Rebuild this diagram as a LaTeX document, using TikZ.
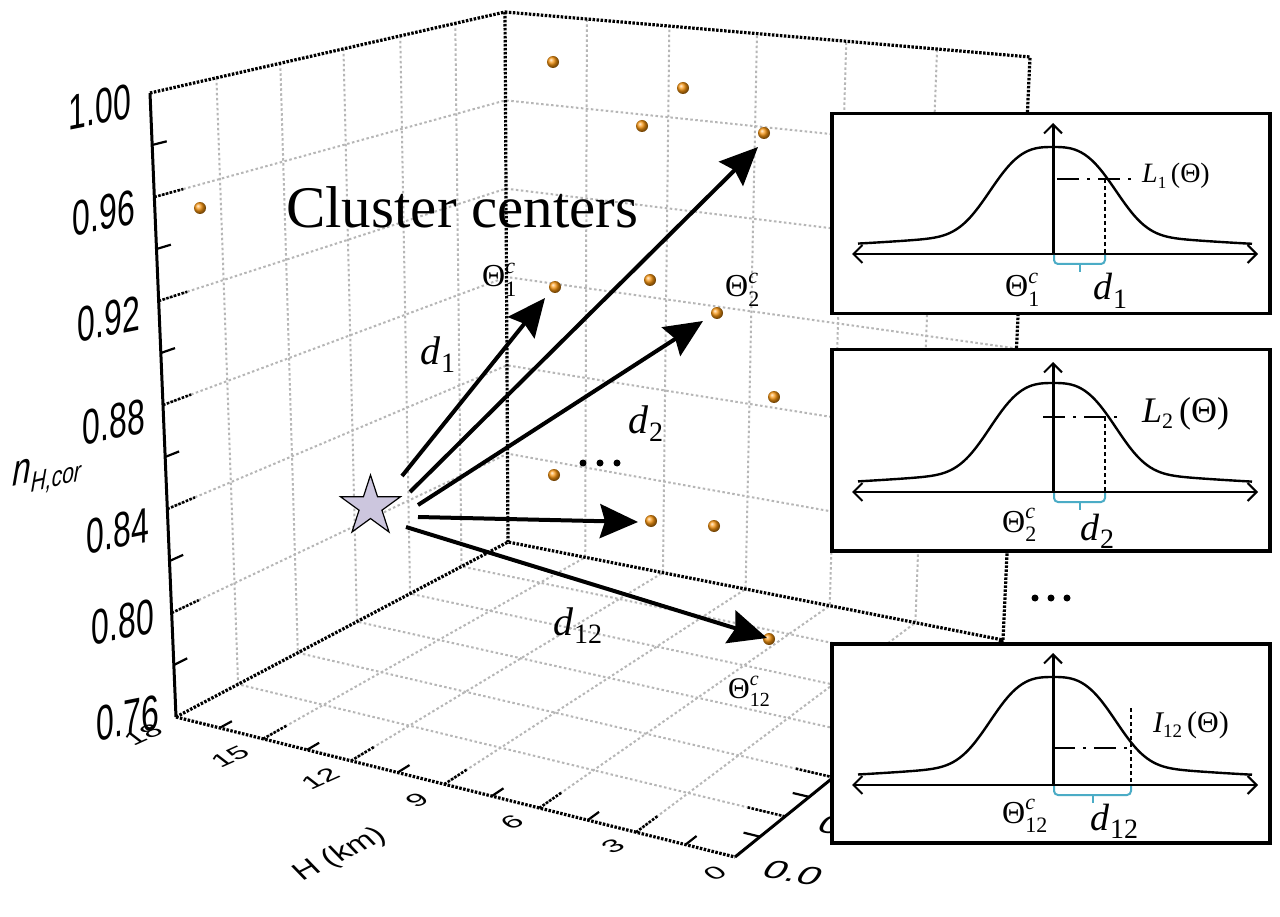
\documentclass[tikz,border=0pt]{standalone}
\usepackage{fontspec}
\setmainfont{Liberation Serif}
\newfontfamily\arialf{Liberation Sans}
\usetikzlibrary{arrows.meta,shapes.geometric,calc}
\definecolor{dotorange}{RGB}{250,150,15}
\definecolor{gridgray}{RGB}{182,182,182}
\definecolor{bracecyan}{RGB}{75,172,198}
\definecolor{starfill}{RGB}{204,198,222}
\newcommand{\TC}[3]{{\fontsize{#1}{#1}\selectfont Θ}{\fontsize{#2}{#2}\selectfont\rlap{\raisebox{0.62em}{\textit{c}}}\raisebox{-0.42em}{#3}}}
\newcommand{\DS}[3]{{\fontsize{#1}{#1}\selectfont\itshape d}\kern1pt{\fontsize{#2}{#2}\selectfont\raisebox{-0.3em}{#3}}}
\newcommand{\LT}[4]{{\fontsize{#1}{#1}\selectfont\itshape #3}{\fontsize{#2}{#2}\selectfont\raisebox{-0.3em}{#4}}{\fontsize{#1}{#1}\selectfont\,(Θ)}}
\newcommand{\bellplot}[2]{\draw[bell] plot[domain=-195:199,samples=121,smooth] ({1053+(\x)},{#1-#2*(0.80*exp(-min((abs(\x)/72)^3,15))+0.20/(1+(\x/190)*(\x/190)))});}
\begin{document}
\begin{tikzpicture}[x=1pt,y=-1pt,
  gridln/.style={gridgray, line width=2pt, dash pattern=on 2.5pt off 2.5pt},
  edge/.style={black, line width=3.2pt, dash pattern=on 2.5pt off 1.5pt},
  axisln/.style={black, line width=3pt},
  tickln/.style={black, line width=2.2pt},
  majtick/.style={black, line width=2.6pt, dash pattern=on 2.5pt off 1.5pt},
  dot/.style={circle, inner sep=0pt, minimum size=12pt, shading=ball, ball color=dotorange},
  bigarrow/.style={line width=4pt, -{Stealth[length=38pt,width=34pt,inset=5pt]}},
  inset/.style={draw=black, line width=3.5pt, fill=white, rectangle, inner sep=0pt, anchor=north west, minimum width=438pt},
  haxis/.style={line width=2pt, {Straight Barb[length=9pt,width=18pt,line width=2pt]}-{Straight Barb[length=9pt,width=18pt,line width=2pt]}},
  vaxis/.style={line width=3pt, -{Straight Barb[length=9pt,width=18pt,line width=2pt]}},
  bell/.style={line width=2.4pt},
  level/.style={line width=2pt, dash pattern=on 22pt off 8pt on 3pt off 8pt},
  drop/.style={line width=1.5pt, dash pattern=on 4pt off 3pt},
  brace/.style={bracecyan, line width=2pt, rounded corners=4pt},
  ylab/.style={font=\arialf\fontsize{32pt}{32pt}\selectfont, inner sep=0pt, cm={1.0,0.2,0.0,1.55,(0,0)}, transform shape},
  hlab/.style={font=\arialf\fontsize{28pt}{28pt}\selectfont, inner sep=0pt, cm={1.0,0.45,-0.65,0.5,(0,0)}, transform shape},
  glab/.style={font=\arialf\fontsize{32pt}{32pt}\selectfont, inner sep=0pt, cm={1.25,-0.2,0.5,0.75,(0,0)}, transform shape},
  lbl/.style={anchor=base west, inner sep=0pt},
]
\useasboundingbox (0,0) rectangle (1280,917);
\fill[white] (0,0) rectangle (1280,917);
\coordinate (A) at (150,93);
\coordinate (D) at (505,12);
\coordinate (E) at (508,542);
\coordinate (B) at (176,717);
\coordinate (F) at (1030,57);
\coordinate (G) at (1003,640);
\coordinate (C) at (735,857);
% grid
\foreach \f in {0.1667,0.3333,0.5,0.6667,0.8333}{
  \draw[gridln] ($(B)!\f!(A)$) -- ($(E)!\f!(D)$) -- ($(G)!\f!(F)$);
}
\foreach \f in {0.187,0.367,0.545,0.705,0.86}{
  \draw[gridln] ($(A)!\f!(D)$) -- ($(B)!\f!(E)$) -- ($(C)!\f!(G)$);
}
\foreach \f in {0.156,0.313,0.48,0.65,0.823}{
  \draw[gridln] ($(B)!\f!(C)$) -- ($(E)!\f!(G)$) -- ($(D)!\f!(F)$);
}
% box edges and axes
\draw[edge] (A) -- (D) -- (F) -- (G);
\draw[edge] (D) -- (E);
\draw[edge] (B) -- (E) -- (G);
\draw[edge] (B) -- (C);
\draw[axisln] (A) -- (B);
\draw[axisln] (C) -- (G);
% ticks
\foreach \f in {0.1667,0.3333,0.5,0.6667,0.8333}{
  \coordinate (p) at ($(B)!\f!(A)$); \coordinate (q) at ($(E)!\f!(D)$);
  \draw[majtick] (p) -- ($(p)!30pt!(q)$);
}
\foreach \f in {0.0833,0.25,0.4167,0.5833,0.75,0.9167}{
  \coordinate (p) at ($(B)!\f!(A)$); \coordinate (q) at ($(E)!\f!(D)$);
  \draw[tickln] (p) -- ($(p)!15pt!(q)$);
}
\foreach \f in {0.156,0.313,0.48,0.65,0.823}{
  \coordinate (p) at ($(B)!\f!(C)$); \coordinate (q) at ($(E)!\f!(G)$);
  \draw[majtick] (p) -- ($(p)!28pt!(q)$);
}
\foreach \f in {0.078,0.2345,0.3965,0.565,0.7365,0.9115}{
  \coordinate (p) at ($(B)!\f!(C)$); \coordinate (q) at ($(E)!\f!(G)$);
  \draw[tickln] (p) -- ($(p)!14pt!(q)$);
}
\foreach \f in {0.187,0.367,0.545,0.705,0.86}{
  \coordinate (p) at ($(C)!\f!(G)$); \coordinate (q) at ($(B)!\f!(E)$);
  \draw[majtick] (p) -- ($(p)!40pt!(q)$);
}
\foreach \f in {0.0935,0.277,0.456,0.625,0.7825,0.93}{
  \coordinate (p) at ($(C)!\f!(G)$); \coordinate (q) at ($(B)!\f!(E)$);
  \draw[tickln] (p) -- ($(p)!17pt!(q)$);
}
% tick labels
\node[ylab] (y100) at (100,107) {1.00};
\node[ylab] (y096) at (104,213) {0.96};
\node[ylab] (y092) at (109,319) {0.92};
\node[ylab] (y088) at (114,422) {0.88};
\node[ylab] (y084) at (118,531) {0.84};
\node[ylab] (y080) at (123,622) {0.80};
\node[ylab] (y076) at (128,718) {0.76};
\node[hlab] (h18) at (143,735) {18};
\node[hlab] (h15) at (230,757) {15};
\node[hlab] (h12) at (320,779) {12};
\node[hlab] (h9) at (417,800) {9};
\node[hlab] (h6) at (512,822) {6};
\node[hlab] (h3) at (613,846) {3};
\node[hlab] (h0) at (715,873) {0};
\node[font=\arialf\fontsize{32pt}{32pt}\selectfont, inner sep=0pt, cm={0.89,0.45,-0.6,0.62,(0,0)}, transform shape] (hkm) at (340,855) {H (km)};
\node[glab] (g00) at (793,873) {0.0};
\node[glab] (g02) at (848,828) {0.2};
\node[inner sep=0pt, cm={1.0,0.25,0.05,1.35,(0,0)}, transform shape, font=\arialf\itshape] (nlab) at (47,473)
  {\fontsize{33pt}{33pt}\selectfont n\fontsize{21pt}{21pt}\selectfont\raisebox{-0.4em}{H,cor}};
% cluster centres
\node[dot] (c0) at (200,208) {};
\node[dot] (c1) at (553,62) {};
\node[dot] (c2) at (683,88) {};
\node[dot] (c3) at (642,126) {};
\node[dot] (c4) at (764,133) {};
\node[dot] (c5) at (555,287) {};
\node[dot] (c6) at (650,280) {};
\node[dot] (c7) at (717,313) {};
\node[dot] (c8) at (774,397) {};
\node[dot] (c9) at (554,475) {};
\node[dot] (c10) at (651,521) {};
\node[dot] (c11) at (714,526) {};
\node[dot] (c12) at (769,639) {};
\node[lbl] (cc) at (286,228) {\fontsize{59pt}{59pt}\selectfont Cluster centers};
% star and arrows
\node[star, star points=5, star point ratio=2.618, minimum size=63pt, inner sep=0pt, fill=starfill, draw=black, line width=1.2pt] (star) at (370.5,506.5) {};
\coordinate (s1) at (402,476); \coordinate (e1) at (545,298);
\coordinate (s2) at (410,492); \coordinate (e2) at (758,147);
\coordinate (s3) at (418,505); \coordinate (e3) at (703,321);
\coordinate (s4) at (418,517); \coordinate (e4) at (638,522);
\coordinate (s5) at (406,527); \coordinate (e5) at (767,638);
\draw[bigarrow] (s1) -- (e1);
\draw[bigarrow] (s2) -- (e2);
\draw[bigarrow] (s3) -- (e3);
\draw[bigarrow] (s4) -- (e4);
\draw[bigarrow] (s5) -- (e5);
\node[lbl] (md1) at (420,364) {\DS{40pt}{28pt}{1}};
\node[lbl] (md2) at (628,433) {\DS{40pt}{28pt}{2}};
\node[lbl] (md12) at (553,635) {\DS{40pt}{28pt}{12}};
\node[lbl] (mt1) at (482,287) {\TC{32pt}{22pt}{1}};
\node[lbl] (mt2) at (725,297) {\TC{32pt}{22pt}{2}};
\node[lbl] (mt12) at (728,698) {\TC{30pt}{20pt}{12}};
\fill (583,463) circle (3.5) (600,463) circle (3.5) (617,463) circle (3.5);
\fill (1035,598) circle (3.5) (1051,598) circle (3.5) (1067,598) circle (3.5);
% inset 1
\node[inset, minimum height=200pt] (box1) at (830,112) {};
\draw[haxis] (852,254) -- (1258,254);
\draw[vaxis] (1053,254) -- (1053,123);
\bellplot{254}{107}
\draw[level] (1057,179) -- (1131,179);
\draw[drop] (1105,179) -- (1105,254);
\draw[brace] (1054,255) -- (1054,264) -- (1105,264) -- (1105,255);
\draw[bracecyan, line width=2pt] (1080,264) -- (1080,272);
\node[lbl] (L1) at (1142,183) {\LT{28pt}{17pt}{L}{1}};
\node[lbl] (T1) at (1005,297) {\TC{32pt}{22pt}{1}};
\node[lbl] (D1) at (1093,300) {\DS{38pt}{28pt}{1}};
% inset 2
\node[inset, minimum height=201pt] (box2) at (830,348) {};
\draw[haxis] (852,492) -- (1258,492);
\draw[vaxis] (1053,492) -- (1053,362);
\bellplot{492}{109}
\draw[level] (1043,417) -- (1118,417);
\draw[drop] (1105,417) -- (1105,492);
\draw[brace] (1054,493) -- (1054,502) -- (1105,502) -- (1105,493);
\draw[bracecyan, line width=2pt] (1080,502) -- (1080,510);
\node[lbl] (L2) at (1142,422) {\LT{36pt}{22pt}{L}{2}};
\node[lbl] (T2) at (1002,532) {\TC{32pt}{22pt}{2}};
\node[lbl] (D2) at (1080,540) {\DS{38pt}{28pt}{2}};
% inset 3
\node[inset, minimum height=199pt] (box3) at (830,642) {};
\draw[haxis] (852,785) -- (1258,785);
\draw[vaxis] (1053,785) -- (1053,653);
\bellplot{785}{108}
\draw[level] (1053,748) -- (1131,748);
\draw[drop] (1131,708) -- (1131,785);
\draw[brace] (1054,786) -- (1054,795) -- (1131,795) -- (1131,786);
\draw[bracecyan, line width=2pt] (1093,795) -- (1093,803);
\node[lbl] (L12) at (1153,732) {\LT{30pt}{19pt}{I}{12}};
\node[lbl] (T12) at (1002,823) {\TC{32pt}{22pt}{12}};
\node[lbl] (D12) at (1090,830) {\DS{38pt}{28pt}{12}};
\end{tikzpicture}
\end{document}
